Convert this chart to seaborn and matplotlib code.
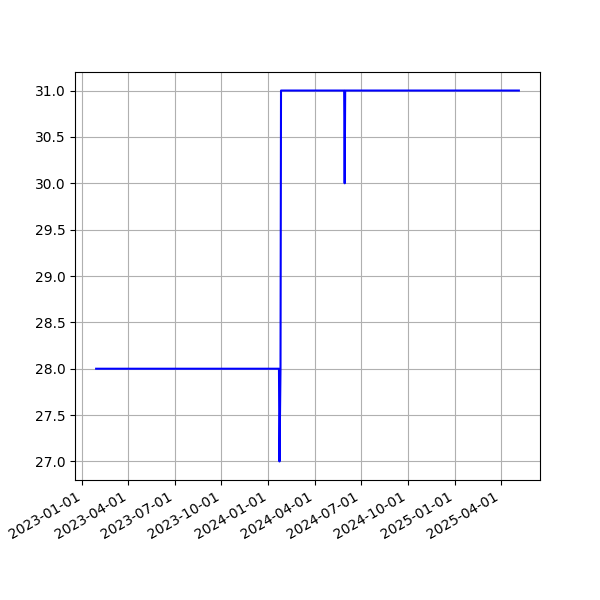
import pandas as pd
import seaborn as sns
import matplotlib
matplotlib.use("Agg")
import matplotlib.pyplot as plt
import matplotlib.dates as mdates

# values
dates = ["2023-01-28", "2024-01-22", "2024-01-23", "2024-01-25", "2024-01-26",
         "2024-05-29", "2024-05-30", "2024-05-31", "2025-05-07"]
values = [28, 28, 27, 28, 31, 31, 30, 31, 31]

df = pd.DataFrame({"date": pd.to_datetime(dates), "value": values})

fig, ax = plt.subplots(figsize=(6, 6), dpi=100)
sns.lineplot(data=df, x="date", y="value", color="blue", ax=ax)
ax.set_xlabel("")
ax.set_ylabel("")
ax.xaxis.set_major_locator(mdates.MonthLocator(bymonth=[1, 4, 7, 10]))
ax.xaxis.set_major_formatter(mdates.DateFormatter("%Y-%m-%d"))
ax.grid(True)
fig.autofmt_xdate()
fig.savefig("out.png")
